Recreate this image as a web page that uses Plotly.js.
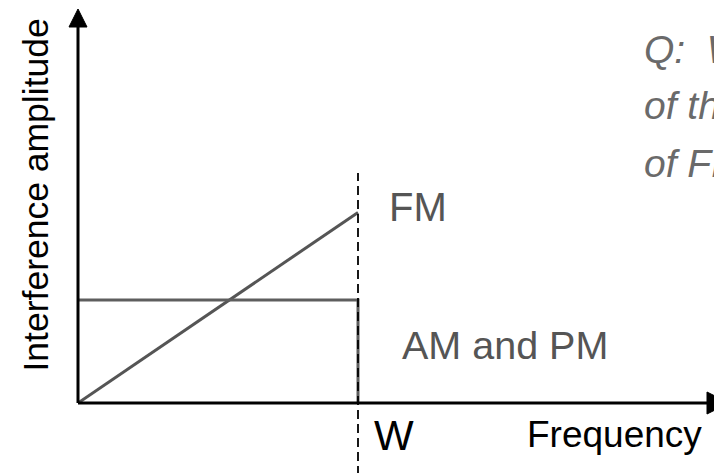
<!DOCTYPE html>
<html>
<head>
<meta charset="utf-8">
<script src="https://cdn.plot.ly/plotly-3.0.1.min.js"></script>
<style>
  html, body { margin: 0; padding: 0; background: #fff; }
  #chart { width: 714px; height: 473px; }
</style>
</head>
<body>
<div id="chart"></div>
<script>
// Frequency in units of the message bandwidth W, amplitude in units of the AM/PM level
const fmFreq = [0, 1];
const fmAmplitude = [0, 1.85];
const ampmFreq = [0, 1, 1];
const ampmAmplitude = [1, 1, 0];
const bandEdge = 1;                 // W
const seriesNames = ['FM', 'AM and PM'];
const tickLabel = 'W';
const xTitle = 'Frequency';
const yTitle = 'Interference amplitude';
const questionLines = ['Q:  Why is the', 'of the interference', 'of FM?'];

const W = 714, H = 473;
const M = { l: 78, r: 0, t: 10, b: 70 };
const plotW = W - M.l - M.r, plotH = H - M.t - M.b;
const pxPerX = 280, pxPerY = 103;
// pixel -> paper helpers for the free-floating decorations
const px = x => (x - M.l) / plotW;
const py = y => (H - M.b - y) / plotH;

const font = 'Liberation Sans, Arial, Helvetica, sans-serif';
const grey = '#555555';

const traces = [
  {
    x: fmFreq, y: fmAmplitude, name: seriesNames[0],
    mode: 'lines', line: { color: grey, width: 3 }, hoverinfo: 'skip'
  },
  {
    x: ampmFreq, y: ampmAmplitude, name: seriesNames[1],
    mode: 'lines', line: { color: '#5e5e5e', width: 3 }, hoverinfo: 'skip'
  }
];

const hiddenAxis = {
  showgrid: false, zeroline: false, showline: false,
  showticklabels: false, ticks: '', fixedrange: true
};

const annotations = [
  // series labels
  { xref: 'x', yref: 'y', x: fmFreq[1], y: fmAmplitude[1], xshift: 29, yshift: 5,
    xanchor: 'left', yanchor: 'middle', text: seriesNames[0], showarrow: false,
    font: { family: font, size: 40, color: grey } },
  { xref: 'x', yref: 'paper', x: bandEdge, y: py(344.5), xshift: 42,
    xanchor: 'left', yanchor: 'middle', text: seriesNames[1], showarrow: false,
    font: { family: font, size: 39.5, color: grey } },
  // band edge tick label and axis titles
  { xref: 'x', yref: 'paper', x: bandEdge, y: py(435), xshift: 14,
    xanchor: 'left', yanchor: 'middle', text: tickLabel, showarrow: false,
    font: { family: font, size: 42, color: '#000' } },
  { xref: 'paper', yref: 'paper', x: px(525), y: py(434),
    xanchor: 'left', yanchor: 'middle', text: xTitle, showarrow: false,
    font: { family: font, size: 37, color: '#000' } },
  { xref: 'paper', yref: 'paper', x: px(35), y: py(195.5), textangle: -90,
    xanchor: 'center', yanchor: 'middle', text: yTitle, showarrow: false,
    font: { family: font, size: 35.5, color: '#000' } }
];

// question text running off the right edge
const lineCentres = [49, 106, 163];
questionLines.forEach((t, i) => {
  annotations.push({
    xref: 'paper', yref: 'paper', x: px(642), y: py(lineCentres[i]),
    xanchor: 'left', yanchor: 'middle', text: '<i>' + t + '</i>', showarrow: false,
    font: { family: font, size: 39, color: '#6a6a6a' }
  });
});

// filled triangle path in paper units
function arrowHead(tipX, tipY, backX1, backY1, backX2, backY2) {
  return 'M' + px(tipX) + ',' + py(tipY) +
         ' L' + px(backX1) + ',' + py(backY1) +
         ' L' + px(backX2) + ',' + py(backY2) + ' Z';
}

const shapes = [
  // axes
  { type: 'line', xref: 'paper', yref: 'paper', x0: 0, y0: 0, x1: 0, y1: 0.98,
    line: { color: '#000', width: 3 } },
  { type: 'line', xref: 'paper', yref: 'paper', x0: 0, y0: 0, x1: 1, y1: 0,
    line: { color: '#000', width: 3 } },
  // arrowheads
  { type: 'path', xref: 'paper', yref: 'paper', path: arrowHead(78, 9, 69, 27, 87, 27),
    fillcolor: '#000', line: { color: '#000', width: 1 } },
  { type: 'path', xref: 'paper', yref: 'paper', path: arrowHead(729, 403, 707, 392, 707, 414),
    fillcolor: '#000', line: { color: '#000', width: 1 } },
  // band edge marker at W
  { type: 'line', xref: 'x', yref: 'paper', x0: bandEdge, x1: bandEdge,
    y0: py(475), y1: py(173), line: { color: '#000', width: 1.8, dash: '9px,5px' } }
];

const layout = {
  width: W, height: H,
  margin: M,
  paper_bgcolor: '#fff', plot_bgcolor: '#fff',
  showlegend: false,
  xaxis: Object.assign({ range: [0, plotW / pxPerX] }, hiddenAxis),
  yaxis: Object.assign({ range: [0, plotH / pxPerY] }, hiddenAxis),
  annotations: annotations,
  shapes: shapes
};

Plotly.newPlot('chart', traces, layout, { displayModeBar: false, staticPlot: true });
</script>
</body>
</html>
